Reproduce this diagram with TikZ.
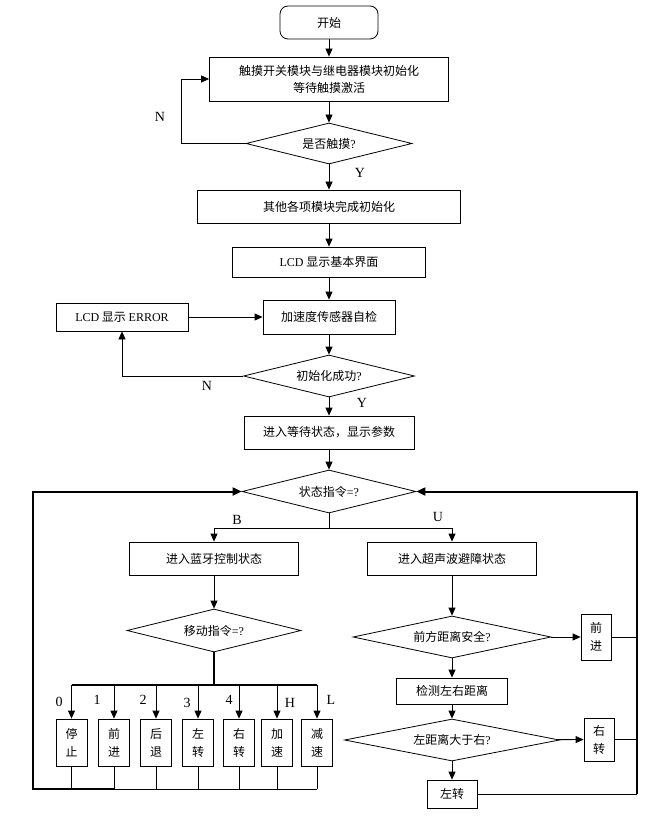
\documentclass[tikz,border=0pt]{standalone}
\usepackage{fontspec}
\setmainfont{Liberation Serif}
\newfontfamily\cjk{Noto Sans CJK SC}
\usetikzlibrary{shapes.geometric,arrows.meta}
\newcommand{\lat}[1]{{\rmfamily #1}}
\begin{document}
\begin{tikzpicture}[x=1pt,y=-1pt,
  box/.style={draw, line width=0.8pt, inner sep=0pt, font=\fontsize{12}{14}\selectfont\cjk},
  vbox/.style={box, align=center, minimum width=31, minimum height=47, font=\fontsize{12}{18}\selectfont\cjk},
  dia/.style={draw, diamond, aspect=4, line width=0.8pt, inner sep=0pt, font=\fontsize{12}{14}\selectfont\cjk},
  lbl/.style={inner sep=0pt, font=\fontsize{14}{15}\selectfont\rmfamily},
  ln/.style={line width=0.8pt},
  arr/.style={line width=0.8pt, -{Triangle[length=8pt,width=7pt]}},
  tarr/.style={line width=2pt, -{Triangle[length=9pt,width=8pt]}}]
\useasboundingbox (0,0) rectangle (667,818);
% top section
\node[box, rounded corners=8pt, minimum width=98, minimum height=33] (start) at (329,22.5) {开始};
\node[box, minimum width=239, minimum height=44, align=center, font=\fontsize{12}{17}\selectfont\cjk] (init) at (329,79) {触摸开关模块与继电器模块初始化\\等待触摸激活};
\node[dia, minimum width=166, minimum height=41] (touch) at (329,143.5) {是否触摸\lat{?}};
\node[box, minimum width=263, minimum height=33] (other) at (329,206.5) {其他各项模块完成初始化};
\node[box, minimum width=193, minimum height=30] (lcd) at (329,262) {\lat{LCD} 显示基本界面};
\node[box, minimum width=132, minimum height=34] (acc) at (329,317) {加速度传感器自检};
\node[box, minimum width=132, minimum height=28] (err) at (122,317) {\lat{LCD} 显示 \lat{ERROR}};
\node[dia, minimum width=171, minimum height=42] (ok) at (329,376) {初始化成功\lat{?}};
\node[box, minimum width=170, minimum height=33] (wait) at (329,432.5) {进入等待状态，显示参数};
\node[dia, minimum width=174, minimum height=43] (state) at (329,491.5) {状态指令\lat{=?}};
% bluetooth branch
\node[box, minimum width=169, minimum height=33] (bt) at (214,558.5) {进入蓝牙控制状态};
\node[dia, minimum width=174, minimum height=43] (move) at (214,630.5) {移动指令\lat{=?}};
\node[vbox] (b0) at (71.5,742.5) {停\\止};
\node[vbox] (b1) at (114,742.5) {前\\进};
\node[vbox] (b2) at (156,742.5) {后\\退};
\node[vbox] (b3) at (198,742.5) {左\\转};
\node[vbox] (b4) at (239,742.5) {右\\转};
\node[vbox] (b5) at (277,742.5) {加\\速};
\node[vbox] (b6) at (317,742.5) {减\\速};
% ultrasonic branch
\node[box, minimum width=169, minimum height=33] (us) at (452,558.5) {进入超声波避障状态};
\node[dia, minimum width=198, minimum height=42] (safe) at (452,637) {前方距离安全\lat{?}};
\node[vbox, minimum width=30, minimum height=46] (fwd) at (596,637) {前\\进};
\node[box, minimum width=111, minimum height=26] (detect) at (452,691) {检测左右距离};
\node[dia, minimum width=215, minimum height=42] (cmp) at (452,740) {左距离大于右\lat{?}};
\node[vbox, minimum width=30, minimum height=43] (rt) at (599,739.5) {右\\转};
\node[box, minimum width=50, minimum height=28] (lt) at (452,794) {左转};
% coordinates
\coordinate (split) at (329,528);
\coordinate (msplit) at (214,685);
\coordinate (bl) at (33,789);
\coordinate (rb) at (637,794);
% labels
\node[lbl] at (160,117) {N};
\node[lbl] at (360,173) {Y};
\node[lbl] at (207,386) {N};
\node[lbl] at (362,403) {Y};
\node[lbl] at (237,520) {B};
\node[lbl] at (438,517) {U};
\node[lbl] at (59,702) {0};
\node[lbl] at (97,700) {1};
\node[lbl] at (143,700) {2};
\node[lbl] at (187,703) {3};
\node[lbl] at (229,700) {4};
\node[lbl] at (290,703) {H};
\node[lbl] at (331,700) {L};
% connectors top
\draw[arr] (start) -- (init);
\draw[arr] (init) -- (touch);
\draw[arr] (touch.west) -- ++(-64,0) |- (init.west);
\draw[arr] (touch) -- (other);
\draw[arr] (other) -- (lcd);
\draw[arr] (lcd) -- (acc);
\draw[arr] (err) -- (acc);
\draw[arr] (ok.west) -| (err.south);
\draw[arr] (acc) -- (ok);
\draw[arr] (ok) -- (wait);
\draw[arr] (wait) -- (state);
% branches
\draw[ln] (state.south) -- (split);
\draw[arr] (split) -| (bt.north);
\draw[arr] (split) -| (us.north);
\draw[arr] (bt) -- (move);
\draw[line width=1.4pt] (move.south) -- (msplit);
\draw[line width=1.1pt] (msplit -| b0) -- (msplit -| b6);
\foreach \b in {b0,b1,b2,b3,b4,b5,b6}{
  \draw[arr] (msplit -| \b) -- (\b.north);
  \draw[ln] (\b.south) -- (bl -| \b);
}
\draw[ln] (bl -| b1) -- (bl -| b6);
\draw[tarr] (bl -| b1) -- (bl) |- (state.west);
% ultrasonic connectors
\draw[arr] (us) -- (safe);
\draw[arr] (safe) -- (fwd);
\draw[arr] (safe) -- (detect);
\draw[arr] (detect) -- (cmp);
\draw[arr] (cmp) -- (rt);
\draw[arr] (cmp) -- (lt);
\draw[ln] (fwd.east) -- (fwd.east -| rb);
\draw[ln] (rt.east) -- (rt.east -| rb);
\draw[ln] (lt.east) -- (rb);
\draw[tarr] (rb) |- (state.east);
\end{tikzpicture}
\end{document}
